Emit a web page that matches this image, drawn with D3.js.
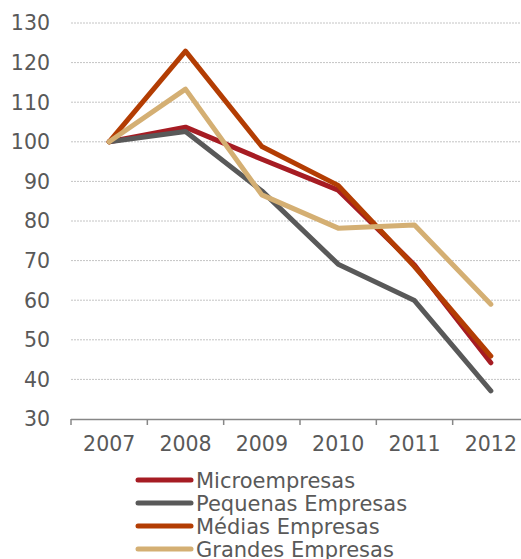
<!DOCTYPE html>
<html>
<head>
<meta charset="utf-8">
<script src="https://cdn.jsdelivr.net/npm/d3@7"></script>
<style>
  html, body { margin: 0; padding: 0; background: #fff; overflow: hidden; }
  svg { display: block; font-family: "DejaVu Sans", Verdana, sans-serif; }
</style>
</head>
<body>
<svg id="chart" width="521" height="559"></svg>
<script>
const years = ["2007", "2008", "2009", "2010", "2011", "2012"];
const seriesNames = ["Microempresas", "Pequenas Empresas", "Médias Empresas", "Grandes Empresas"];
const micro    = [100, 103.7, 95.6, 87.8, 68.9, 44.2];
const pequenas = [100, 102.6, 87.6, 69.1, 59.9, 37.1];
const medias   = [100, 122.9, 98.8, 89.0, 68.5, 45.9];
const grandes  = [100, 113.3, 86.6, 78.2, 79.0, 59.0];
const yTicks = [30, 40, 50, 60, 70, 80, 90, 100, 110, 120, 130];
const colors = ["#A61C23", "#595959", "#B33D03", "#D4AF73"];

const seriesValues = [micro, pequenas, medias, grandes];
const svg = d3.select("#chart");

const mLeft = 71, mRight = 529, mTop = 23, mBottom = 419;
const x = d3.scaleBand().domain(years).range([mLeft, mRight]);
const y = d3.scaleLinear().domain([30, 130]).range([mBottom, mTop]);

// gridlines
svg.append("g").selectAll("line")
  .data(yTicks.filter(d => d > 30))
  .join("line")
  .attr("x1", mLeft).attr("x2", 521)
  .attr("y1", d => y(d)).attr("y2", d => y(d))
  .attr("stroke", "#c4c4c4").attr("stroke-width", 1)
  .attr("stroke-dasharray", "2,1");

// y labels
svg.append("g").selectAll("text")
  .data(yTicks)
  .join("text")
  .attr("x", 50).attr("y", d => y(d))
  .attr("dy", "0.36em")
  .attr("text-anchor", "end")
  .attr("font-size", "20.5px")
  .attr("fill", "#595959")
  .text(d => d);

// x axis
const xAxis = d3.axisBottom(x).tickSize(0).tickPadding(17);
const gx = svg.append("g").attr("transform", `translate(0,${mBottom})`).call(xAxis);
gx.select(".domain").remove();
gx.selectAll("text").attr("font-size", "20.5px").attr("fill", "#595959")
  .attr("font-family", "DejaVu Sans, Verdana, sans-serif");
svg.append("line").attr("x1", mLeft).attr("x2", mRight)
  .attr("y1", mBottom + 0.5).attr("y2", mBottom + 0.5)
  .attr("stroke", "#878787").attr("stroke-width", 1.5);
const boundaries = years.map(d => x(d)).concat([x(years[years.length - 1]) + x.bandwidth()]);
svg.append("g").selectAll("line")
  .data(boundaries)
  .join("line")
  .attr("x1", d => d).attr("x2", d => d)
  .attr("y1", mBottom).attr("y2", mBottom + 6)
  .attr("stroke", "#878787").attr("stroke-width", 1.5);

// lines
const line = d3.line()
  .x((d, i) => x(years[i]) + x.bandwidth() / 2)
  .y(d => y(d));
svg.append("g").selectAll("path")
  .data(seriesValues)
  .join("path")
  .attr("d", d => line(d))
  .attr("fill", "none")
  .attr("stroke", (d, i) => colors[i])
  .attr("stroke-width", 5)
  .attr("stroke-linejoin", "round")
  .attr("stroke-linecap", "round");

// legend
const lg = svg.append("g");
const rows = lg.selectAll("g")
  .data(seriesNames)
  .join("g")
  .attr("transform", (d, i) => `translate(0,${480 + i * 23})`);
rows.append("line")
  .attr("x1", 138).attr("x2", 191)
  .attr("y1", 0).attr("y2", 0)
  .attr("stroke", (d, i) => colors[i])
  .attr("stroke-width", 5)
  .attr("stroke-linecap", "round");
rows.append("text")
  .attr("x", 196).attr("y", 0).attr("dy", "0.36em")
  .attr("font-size", "21px")
  .attr("fill", "#595959")
  .text(d => d);
</script>
</body>
</html>
